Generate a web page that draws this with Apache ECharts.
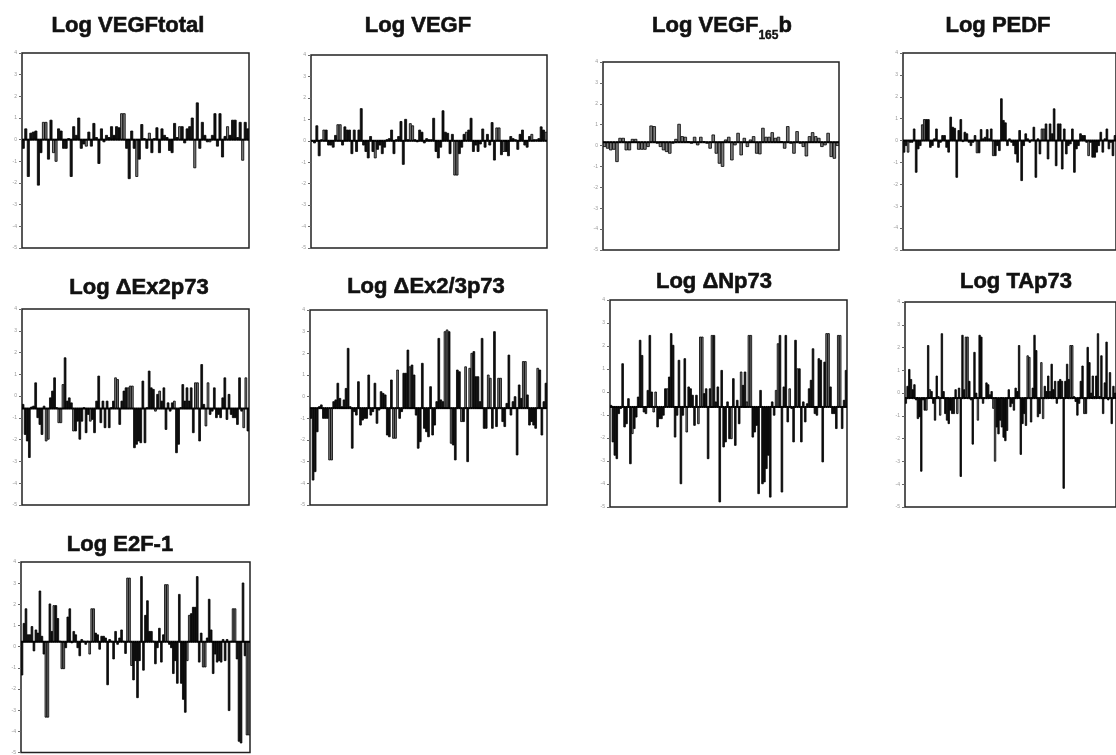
<!DOCTYPE html>
<html>
<head>
<meta charset="utf-8">
<title>Log expression panels</title>
<script src="https://cdn.jsdelivr.net/npm/echarts@6/dist/echarts.min.js"></script>
<style>
  html, body { margin: 0; padding: 0; background: #fff; }
  #chart { width: 1116px; height: 755px; }
</style>
</head>
<body>
<div id="chart"></div>
<script>
// values per sample (log scale); *Gray = indices of the grey-filled bars
const vegfTotal = [-0.4,0.5,-1.7,0.3,0.35,0.4,-2.1,-0.6,0.8,0.8,
  -0.9,0.9,-0.6,-1.0,0.5,0.4,-0.4,-0.4,0.05,-1.7,
  0.6,0.2,1.0,-0.4,-0.2,-0.3,0.35,-0.3,0.75,0.1,
  -1.1,0.5,-0.1,0.2,0.1,0.6,0.2,0.6,0.55,1.2,
  1.2,-0.4,-1.8,0.4,-0.4,-1.7,-0.9,0.7,0.05,-0.4,
  0.3,-0.6,0.05,0.55,-0.6,0.5,0.2,0.1,-0.5,-0.6,
  0.75,0.1,0.6,0.6,-0.15,0.5,0.6,1.0,-1.3,1.7,
  -0.4,0.8,0.2,-0.1,-0.1,0.2,1.2,-0.3,1.2,-0.8,
  0.15,0.6,0.2,0.9,0.9,0.1,0.8,-0.95,0.8,0.5]
const vegfTotalGray = [8,9,12,13,25,39,40,45,50,62,68,74,81,87]

const vegf = [0,-0.1,0.7,-0.7,0.05,0.5,0.5,-0.2,-0.2,-0.3,
  0.25,0.75,0.75,-0.2,0.65,0.5,0.5,-0.6,0.5,-0.5,
  0.5,1.5,-0.2,-0.5,-0.8,0.2,-0.5,-0.8,-0.4,-0.2,
  -0.6,-0.3,0.05,0.1,0.5,-0.6,0.05,0.2,0.9,-1.1,
  1.0,0.05,0.8,0.7,0.05,-0.05,0.5,0.4,-0.1,0.1,
  0.05,0.05,1.05,-0.5,-0.8,-0.3,1.4,0.4,0.35,-0.6,
  0.3,-1.6,-1.6,-0.6,-0.3,0.3,0.4,0.5,1.05,-0.5,
  -0.2,-0.5,-0.15,0.55,-0.3,0.3,-0.2,0.85,-0.9,0.6,
  0.6,-0.65,-0.5,-0.5,-0.7,0.2,0.1,0.05,-0.4,0.3,
  0.5,-0.2,-0.3,0.2,0.3,0.05,0.05,0.1,0.65,0.5,
  0.4]
const vegfGray = [5,11,12,27,42,43,61,62,66,79,80,82,94,100]

const vegf165b = [-0.05,-0.13,-0.21,-0.18,-0.77,0.35,0.35,-0.21,-0.21,0.3,
  0.3,-0.18,-0.18,-0.18,-0.05,0.94,0.91,0.11,-0.05,-0.21,
  -0.29,-0.37,0.11,0.3,1.02,0.43,0.4,0.19,0.11,0.4,
  0.03,0.4,0.19,0.11,-0.13,0.51,-0.37,-0.85,-1.0,0.27,
  0.4,-0.69,0.03,0.59,-0.45,0.35,-0.05,0.27,0.43,-0.37,
  -0.4,0.83,0.4,0.4,0.62,0.35,0.4,0.19,-0.13,0.91,
  0.11,-0.37,0.67,0.11,-0.05,-0.5,0.43,0.62,0.43,0.35,
  -0.05,0.03,0.59,-0.53,-0.61,0.0]
const vegf165bGray = [0,1,2,3,4,5,6,7,8,9,10,11,12,13,14,15,16,17,18,19,
  20,21,22,23,24,25,26,27,28,29,30,31,32,33,34,35,36,37,38,39,
  40,41,42,43,44,45,46,47,48,49,50,51,52,53,54,55,56,57,58,59,
  60,61,62,63,64,65,66,67,68,69,70,71,72,73,74,75]

const pedf = [-0.53,-0.23,-0.53,-0.08,-0.08,0.53,-1.45,-0.38,-0.23,0.72,
  0.96,0.96,0.96,-0.31,-0.23,0.08,0.53,-0.31,-0.08,0.23,
  0.23,-0.31,-0.53,1.07,0.61,0.56,-1.68,0.46,0.96,-0.05,
  0.38,0.31,-0.08,-0.23,-0.08,0.23,-0.56,-0.56,0.5,0.08,
  0.15,0.5,0.08,0.53,-0.69,-0.69,-0.23,-0.46,1.91,0.92,
  0.81,-0.23,0.08,-0.08,-0.23,-0.61,-0.99,0.46,-1.83,-0.23,
  0.31,0.08,-0.08,0.03,0.61,-1.68,0.08,-0.61,0.53,0.53,
  0.76,-0.84,0.76,0.31,1.45,-1.15,0.76,0.76,-1.3,0.53,
  -0.61,-0.23,-0.15,0.53,-1.45,-0.38,-0.23,0.31,0.23,0.23,
  -0.08,-0.69,-0.08,-0.76,-0.76,-0.53,-0.23,0.38,-0.53,0.08,
  0.53,-0.38,-0.08,-0.69,0.23]
const pedfGray = [2,9,10,36,44,68,69,91]

const dEx2p73 = [-0.38,-1.76,-2.06,-2.82,-0.5,-0.46,0.61,-0.99,-1.3,-1.76,
  -0.46,-2.06,-1.98,-0.08,0.23,0.84,-0.53,-1.22,-1.22,0.53,
  1.76,-0.23,-0.08,-0.31,-1.6,-1.6,-1.15,-1.98,-1.15,-0.53,
  -1.68,-0.84,-1.15,-1.07,-1.68,-0.23,0.92,-1.22,-0.23,-1.45,
  -0.23,-1.45,-0.53,-0.23,0.84,0.76,-1.3,-0.23,0.23,0.38,
  0.38,0.46,0.46,-2.37,-2.21,-2.06,-2.14,0.69,-2.14,-0.53,
  1.15,0.38,0.31,-0.69,0.08,0.23,-0.23,0.38,-1.53,-0.31,
  -0.69,-0.31,-0.23,-2.6,-2.21,-0.53,0.53,-0.23,0.38,-0.23,
  0.38,-1.68,0.61,0.61,-2.06,1.45,-0.38,-1.37,0.61,-0.84,
  -0.69,0.38,-0.99,-0.84,-0.99,-0.08,0.84,-1.07,0.08,-0.84,
  -0.99,-0.99,-1.3,0.84,-0.69,-1.45,0.84,-1.6]
const dEx2p73Gray = [11,12,17,18,19,24,32,44,45,50,51,52,63,65,72,82,83,87,88,105,106]

const dEx23p73 = [-1.0,-3.85,-3.46,-1.62,-0.46,-0.38,-1.0,-1.0,-1.0,-2.92,
  -2.92,-0.23,-0.15,0.62,-0.08,-0.46,-0.15,0.38,2.23,-0.46,
  -2.38,-0.69,-0.85,0.69,-1.31,-1.08,-1.0,-1.0,1.0,-0.85,
  -0.69,0.62,-1.23,-0.62,0.23,0.15,0.08,-1.77,-1.85,0.77,
  -1.92,-1.92,1.23,-1.0,-0.69,1.08,1.08,2.15,1.38,1.46,
  1.0,-0.85,-2.38,-2.08,1.54,-1.46,-1.62,-1.85,0.46,-1.77,
  -1.31,-0.23,2.69,-0.15,-0.23,3.0,3.08,3.0,-2.15,-2.23,
  -2.92,1.23,1.15,-1.15,-1.15,1.38,-3.0,1.31,2.0,2.08,
  0.92,0.92,-0.23,2.69,-1.46,-1.46,1.0,0.85,-1.46,3.0,
  -1.38,0.85,0.85,-1.15,-1.38,-0.31,1.92,-0.85,-0.23,0.0,
  -2.69,0.54,-0.08,1.62,1.62,0.08,-1.31,-1.15,-1.31,-1.46,
  1.31,1.23,-1.77,-0.23,0.62]
const dEx23p73Gray = [9,10,40,41,42,48,65,66,68,73,75,77,78,86,87,91,92,103,104,110]

const dNp73 = [-0.58,-2.17,-2.75,-2.9,-0.94,-0.72,1.23,-1.52,-1.38,-0.29,
  -3.12,-1.81,-1.59,-1.09,-0.22,2.25,1.59,-0.87,-0.94,0.07,
  2.46,0.0,-0.87,0.0,-1.52,-1.16,-1.16,-1.01,0.14,0.14,
  0.65,2.54,2.03,-1.96,-1.01,1.38,-3.99,-1.01,1.45,-1.74,
  0.22,0.14,-0.14,-1.45,-0.14,-1.38,2.39,2.39,-0.07,0.14,
  -2.9,0.14,2.46,2.46,-0.43,0.22,-4.78,0.94,-2.39,-2.17,
  -0.43,-2.03,-2.03,0.58,-2.32,-0.36,-1.38,0.87,0.29,0.87,
  -0.43,2.46,2.46,-1.96,-1.74,-1.45,-4.42,0.07,-3.99,-3.91,
  -3.33,-2.75,-4.57,-0.43,-1.01,0.07,2.1,2.46,-4.35,0.22,
  2.46,-1.3,0.14,-0.72,-2.17,2.25,1.01,1.01,-2.17,-0.43,
  -1.3,-0.51,0.14,0.51,1.88,-0.94,-1.01,1.45,1.38,-3.04,
  1.3,2.54,2.54,0.22,-0.94,-0.94,-1.59,2.46,2.46,-1.59,
  -0.36,0.94]
const dNp73Gray = [11,22,23,29,39,45,46,47,52,62,67,70,71,72,85,86,92,96,111,112,117,118]

const tAp73 = [-0.45,0.3,1.04,0.6,0.15,0.37,-0.3,-1.12,-1.04,-3.43,
  -0.3,-0.75,-0.75,2.09,0.15,0.07,-0.45,-1.19,0.75,-0.15,
  -0.97,2.61,0.07,-0.9,-1.19,-1.34,-0.75,-0.9,-0.9,0.15,
  -0.9,0.22,-3.66,2.54,0.15,2.46,2.46,0.52,-0.3,-2.24,
  1.79,0.0,-1.19,2.54,2.46,-0.45,-0.22,0.45,0.37,-0.07,
  0.07,-0.67,-2.99,-1.49,-1.79,-1.19,-1.49,-1.94,-2.09,-1.64,
  0.15,-0.6,-0.45,-0.75,0.22,0.07,2.09,-2.69,-1.34,-0.9,
  -1.42,1.64,1.57,-1.27,0.22,2.54,1.87,-1.04,-0.9,1.34,
  -1.12,0.3,0.07,0.75,0.07,1.27,0.15,0.52,-0.45,0.52,
  0.6,0.52,-4.18,0.52,1.27,0.6,2.09,2.09,-0.15,-0.37,
  -0.97,-0.45,0.52,1.19,-0.9,-0.9,2.01,1.34,0.0,0.75,
  -0.15,0.75,2.61,-0.15,1.64,-0.9,0.45,2.24,-0.3,0.9,
  -1.34,0.3,0.0]
const tAp73Gray = [12,14,19,20,30,35,36,42,51,52,71,72,79,80,96,97,104]

const e2f1 = [-1.34,1.1,1.79,0.56,0.56,0.95,-0.2,0.79,0.64,2.63,
  0.49,-0.35,-3.33,-3.33,2.02,0.72,1.94,1.94,1.33,0.26,
  -1.04,-1.04,-0.05,1.4,1.79,0.18,0.72,0.56,-0.05,-0.43,
  0.34,0.26,0.11,0.26,-0.35,1.79,1.79,0.64,0.56,-0.12,
  0.49,0.49,0.41,-1.8,0.34,0.26,-0.58,0.72,0.11,0.41,
  0.79,0.26,-0.32,3.24,3.24,-0.89,-1.57,-0.66,-2.41,-0.66,
  3.31,-1.11,1.48,2.17,0.72,0.72,0.26,-0.81,-0.05,0.87,
  -0.73,0.56,2.93,2.93,0.11,-0.05,-1.27,-0.66,-1.73,2.47,
  -1.73,-2.49,-3.1,-0.66,1.48,1.56,1.86,1.86,3.31,-0.73,
  0.64,-0.96,-0.96,0.41,2.24,0.79,-1.27,-0.35,-0.73,-0.66,
  -0.73,0.34,-0.66,0.34,-3.02,0.26,1.79,1.79,-0.58,-4.47,
  -4.55,3.01,-0.43,-4.17,-4.17]
const e2f1Gray = [12,13,16,20,21,34,35,36,53,54,55,72,73,83,84,91,92,106,107,113,114]

// reference level each panel's bars start from
const baselines = [0, 0, 0.16, 0, -0.57, -0.53, -0.65, -0.22, 0.23]
const titles = ['Log VEGFtotal', 'Log VEGF', 'Log VEGF{s|165}b', 'Log PEDF',
  'Log ΔEx2p73', 'Log ΔEx2/3p73', 'Log ΔNp73', 'Log TAp73', 'Log E2F-1']
const yMin = -5
const yMax = 4

const series = [
  [vegfTotal, vegfTotalGray], [vegf, vegfGray], [vegf165b, vegf165bGray], [pedf, pedfGray],
  [dEx2p73, dEx2p73Gray], [dEx23p73, dEx23p73Gray], [dNp73, dNp73Gray], [tAp73, tAp73Gray],
  [e2f1, e2f1Gray],
]

// layout: [left, top, width, height] of each plot box, and title centre/top
const boxes = [
  [22, 53, 227, 195], [311, 55, 236, 193], [603, 62, 236, 188], [903, 53, 235, 197],
  [22, 309, 227, 196], [310, 310, 237, 195], [610, 300, 237, 207], [905, 302, 237, 205],
  [21, 562, 229, 191],
]
const titlePos = [[128, 15], [418, 15], [722, 10], [998, 15], [139, 277], [426, 276], [714, 271], [1016, 271], [120, 534]]

const makeRender = (base, gray) => (params, api) => {
  const idx = api.value(0)
  const end = api.coord([idx, api.value(1)])
  const start = api.coord([idx, base])
  const slot = api.size([1, 0])[0]
  const w = Math.max(slot * 0.85, 1)
  return {
    type: 'group',
    children: [
      {
        type: 'rect',
        shape: { x: end[0] - w / 2, y: Math.min(end[1], start[1]), width: w, height: Math.abs(end[1] - start[1]) },
        style: { fill: gray.includes(idx) ? '#7d7d7d' : '#111', stroke: '#000', lineWidth: 0.8 },
      },
      {
        type: 'line',
        shape: { x1: end[0] - slot / 2, y1: start[1], x2: end[0] + slot / 2, y2: start[1] },
        style: { stroke: '#000', lineWidth: 2 },
      },
    ],
  }
}

const chart = echarts.init(document.getElementById('chart'))
chart.setOption({
  animation: false,
  backgroundColor: '#fff',
  title: titles.map((t, k) => ({
    text: t,
    left: titlePos[k][0],
    top: titlePos[k][1],
    textAlign: 'center',
    padding: 0,
    textStyle: {
      fontFamily: 'Liberation Sans',
      fontSize: 22,
      fontWeight: 'bold',
      color: '#111',
      textBorderColor: '#111',
      textBorderWidth: 0.6,
      lineHeight: k === 2 ? 32 : 22,
      rich: {
        s: { fontFamily: 'Liberation Sans', fontSize: 12, fontWeight: 'bold', color: '#111',
          textBorderColor: '#111', textBorderWidth: 0.4, lineHeight: 12, verticalAlign: 'bottom' },
      },
    },
  })),
  grid: boxes.map(([left, top, width, height]) => ({
    left, top, width, height,
    show: true, borderColor: '#222', borderWidth: 1.5, backgroundColor: '#fff',
  })),
  xAxis: series.map(([vals], k) => ({
    gridIndex: k,
    type: 'category',
    data: vals.map((_, i) => i),
    show: false,
  })),
  yAxis: series.map((_, k) => ({
    gridIndex: k,
    type: 'value',
    min: yMin,
    max: yMax,
    interval: 1,
    axisLine: { show: false },
    axisTick: { show: true, length: 3, lineStyle: { color: '#666', width: 1 } },
    axisLabel: { fontSize: 5, color: '#999', margin: 5, fontFamily: 'Liberation Sans' },
    splitLine: { show: false },
  })),
  series: series.map(([vals, gray], k) => ({
    type: 'custom',
    xAxisIndex: k,
    yAxisIndex: k,
    clip: true,
    renderItem: makeRender(baselines[k], gray),
    data: vals.map((v, i) => [i, v]),
  })),
})
</script>
</body>
</html>
